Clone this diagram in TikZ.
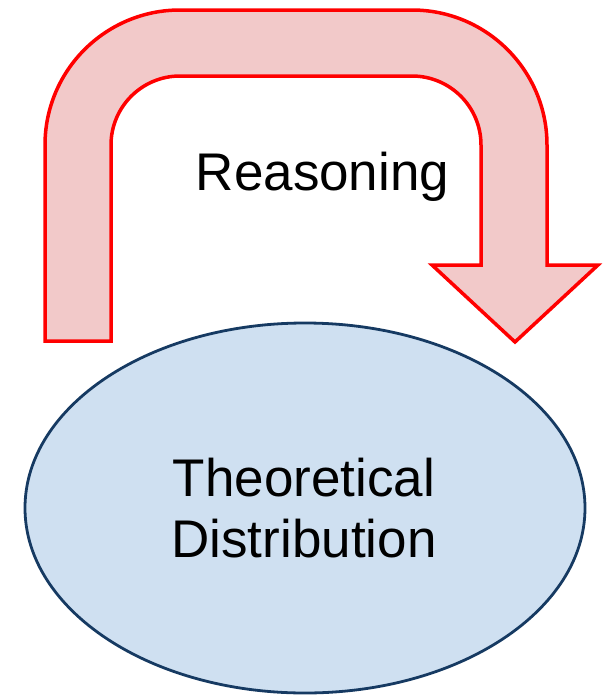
\documentclass[tikz,border=0pt]{standalone}
\usepackage{fontspec}
\setmainfont{Liberation Sans}
\definecolor{arrowfill}{RGB}{242,201,201}
\definecolor{arrowline}{RGB}{255,0,0}
\definecolor{ellfill}{RGB}{207,224,241}
\definecolor{ellline}{RGB}{22,58,98}
\tikzset{
  bigarrow/.style={draw=arrowline, fill=arrowfill, line width=3.5pt, line join=miter},
  ellshape/.style={draw=ellline, fill=ellfill, line width=2.8pt},
  bigtext/.style={font=\fontsize{53}{61}\selectfont, text=black, align=center, inner sep=0pt}
}
\begin{document}
\begin{tikzpicture}[x=1pt,y=-1pt]
\useasboundingbox (0,0) rectangle (604,699);
% curved arrow
\draw[bigarrow] (45,341) -- (45,145) arc[start angle=180, end angle=270, radius=135]
  -- (412,10) arc[start angle=270, end angle=360, radius=135]
  -- (547,265) -- (598,265) -- (515,342) -- (432,265) -- (481,265)
  -- (481,145) arc[start angle=0, end angle=-90, radius=69]
  -- (180,76) arc[start angle=270, end angle=180, radius=69]
  -- (111,341) -- cycle;
% ellipse
\draw[ellshape] (305,508) ellipse[x radius=280, y radius=185];
\node[bigtext] (reason) at (322.5,177) {Reasoning};
\node[bigtext] (theo) at (304,508) {Theoretical\\Distribution};
\end{tikzpicture}
\end{document}
